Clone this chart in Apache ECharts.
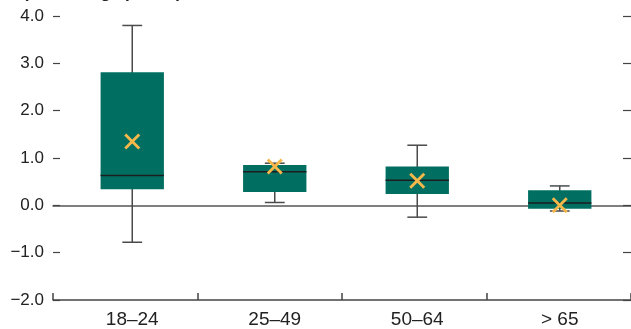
<!DOCTYPE html>
<html>
<head>
<meta charset="utf-8">
<script src="https://cdn.jsdelivr.net/npm/echarts@6/dist/echarts.min.js"></script>
<style>
  html, body { margin: 0; padding: 0; background: #fff; }
  #chart { width: 631px; height: 329px; }
</style>
</head>
<body>
<div id="chart"></div>
<script>
// Age groups and the distribution of changes (percentage points)
const categories = ['18–24', '25–49', '50–64', '> 65'];
const whiskerLow  = [-0.78, 0.06, -0.25, -0.12];
const quartile1   = [0.34, 0.28, 0.24, -0.07];
const medians     = [0.63, 0.71, 0.53, 0.05];
const quartile3   = [2.81, 0.85, 0.82, 0.32];
const whiskerHigh = [3.80, 0.89, 1.27, 0.41];
const means       = [1.35, 0.82, 0.52, 0.00];

const FONT = '"Liberation Sans", Arial, sans-serif';
const AXIS_COLOR = '#444';
const BOX_COLOR = '#006F62';
const MEAN_COLOR = '#F7B84B';

const rows = categories.map((c, i) => [i, whiskerLow[i], quartile1[i], medians[i], quartile3[i], whiskerHigh[i], means[i]]);

// One box per age group: whisker, caps, interquartile box, median and an "x" at the mean
function renderBox(params, api) {
  const idx = api.value(0);
  const band = api.size([1, 0])[0];
  const boxW = band * 64 / 144;
  const capW = band * 20 / 144;
  const cx = api.coord([idx, 0])[0];
  const y = (v) => api.coord([idx, v])[1];
  const yLow = y(api.value(1)), yQ1 = y(api.value(2)), yMed = y(api.value(3));
  const yQ3 = y(api.value(4)), yHigh = y(api.value(5)), yMean = y(api.value(6));
  const wStyle = { stroke: '#4a4a4a', lineWidth: 1.5 };
  const m = 7;
  return {
    type: 'group',
    children: [
      { type: 'line', shape: { x1: cx, y1: yHigh, x2: cx, y2: yLow }, style: wStyle },
      { type: 'line', shape: { x1: cx - capW / 2, y1: yHigh, x2: cx + capW / 2, y2: yHigh }, style: wStyle },
      { type: 'line', shape: { x1: cx - capW / 2, y1: yLow, x2: cx + capW / 2, y2: yLow }, style: wStyle },
      { type: 'rect', shape: { x: cx - boxW / 2, y: yQ3, width: boxW, height: yQ1 - yQ3 }, style: { fill: BOX_COLOR } },
      { type: 'line', shape: { x1: cx - boxW / 2, y1: yMed, x2: cx + boxW / 2, y2: yMed }, style: { stroke: '#1d1d1d', lineWidth: 1.6 } },
      { type: 'line', shape: { x1: cx - m, y1: yMean - m, x2: cx + m, y2: yMean + m }, style: { stroke: MEAN_COLOR, lineWidth: 2.8 } },
      { type: 'line', shape: { x1: cx - m, y1: yMean + m, x2: cx + m, y2: yMean - m }, style: { stroke: MEAN_COLOR, lineWidth: 2.8 } }
    ]
  };
}

const chart = echarts.init(document.getElementById('chart'), null, { renderer: 'canvas' });
chart.setOption({
  animation: false,
  backgroundColor: '#fff',
  graphic: [
    {
      type: 'text', x: 23, y: 2, z: 10,
      style: { text: '(Percentage points)', font: 'bold 17px ' + FONT, fill: '#222', verticalAlign: 'bottom' }
    }
  ],
  grid: [
    { left: 61, top: 16, width: 576, height: 284 },
    { left: 53, top: 16, width: 584, height: 284 }
  ],
  xAxis: [
    {
      type: 'category', gridIndex: 0, data: categories, boundaryGap: true,
      axisLine: { show: false }, axisTick: { show: false },
      axisLabel: { color: '#222', fontFamily: FONT, fontSize: 19, margin: 10 }
    },
    {
      type: 'value', gridIndex: 1, min: 0, max: 4, interval: 1, position: 'bottom',
      axisLine: { show: true, onZero: false, lineStyle: { color: AXIS_COLOR, width: 1.5 } },
      axisTick: { show: true, inside: true, length: 7, lineStyle: { color: AXIS_COLOR, width: 1.5 } },
      axisLabel: { show: false }, splitLine: { show: false }
    },
    {
      // zero reference line across the plot
      type: 'value', gridIndex: 1, min: 0, max: 4,
      axisLine: { show: true, onZero: true, lineStyle: { color: '#555', width: 1.5 } },
      axisTick: { show: false }, axisLabel: { show: false }, splitLine: { show: false }
    }
  ],
  yAxis: [
    { type: 'value', gridIndex: 0, min: -2, max: 4, interval: 1, show: false },
    {
      type: 'value', gridIndex: 1, min: -2, max: 4, interval: 1, position: 'left',
      axisLine: { show: false, onZero: false },
      axisTick: { show: true, inside: true, length: 7, lineStyle: { color: AXIS_COLOR, width: 1.2 } },
      axisLabel: {
        color: '#222', fontFamily: FONT, fontSize: 17, margin: 9,
        formatter: (v) => (v < 0 ? '\u2212' + Math.abs(v).toFixed(1) : v.toFixed(1))
      },
      splitLine: { show: false }
    },
    {
      type: 'value', gridIndex: 1, min: -2, max: 4, interval: 1, position: 'right',
      axisLine: { show: false, onZero: false },
      axisTick: { show: true, inside: true, length: 8, lineStyle: { color: AXIS_COLOR, width: 1.2 } },
      axisLabel: { show: false }, splitLine: { show: false }
    }
  ],
  series: [{
    type: 'custom',
    xAxisIndex: 0, yAxisIndex: 0,
    renderItem: renderBox,
    data: rows,
    z: 5
  }]
});
</script>
</body>
</html>
